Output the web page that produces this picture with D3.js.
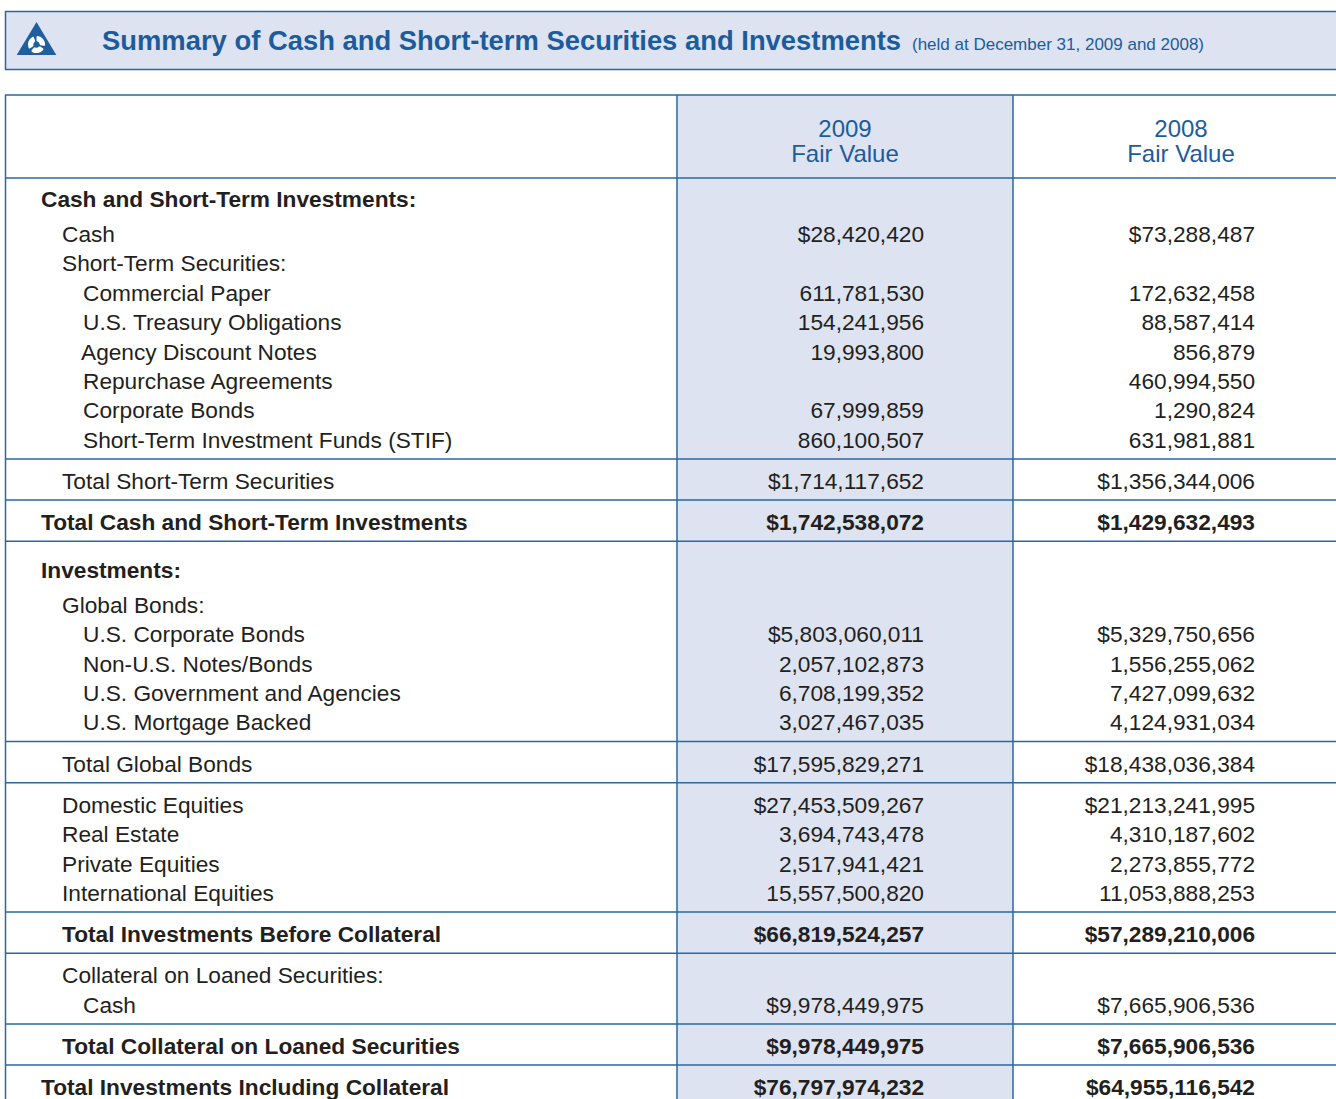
<!DOCTYPE html>
<html>
<head>
<meta charset="utf-8">
<script src="https://cdn.jsdelivr.net/npm/d3@7"></script>
<style>
  html, body { margin: 0; padding: 0; background: #fff; }
  svg { display: block; }
</style>
</head>
<body>
<svg id="chart" width="1336" height="1099"></svg>
<script>
// ---------- DATA ----------
const title = "Summary of Cash and Short-term Securities and Investments";
const subtitle = "(held at December 31, 2009 and 2008)";
const columnYears = ["2009", "2008"];
const columnSub = ["Fair Value", "Fair Value"];

const rowLabels = [
  "Cash and Short-Term Investments:",
  "Cash",
  "Short-Term Securities:",
  "Commercial Paper",
  "U.S. Treasury Obligations",
  "Agency Discount Notes",
  "Repurchase Agreements",
  "Corporate Bonds",
  "Short-Term Investment Funds (STIF)",
  "Total Short-Term Securities",
  "Total Cash and Short-Term Investments",
  "Investments:",
  "Global Bonds:",
  "U.S. Corporate Bonds",
  "Non-U.S. Notes/Bonds",
  "U.S. Government and Agencies",
  "U.S. Mortgage Backed",
  "Total Global Bonds",
  "Domestic Equities",
  "Real Estate",
  "Private Equities",
  "International Equities",
  "Total Investments Before Collateral",
  "Collateral on Loaned Securities:",
  "Cash",
  "Total Collateral on Loaned Securities",
  "Total Investments Including Collateral"
];
// hierarchy level of each row (0 = section, 1 = group, 2 = item)
const rowLevels = [0,1,1,2,2,2,2,2,2,1,0,0,1,2,2,2,2,1,1,1,1,1,1,1,2,1,0];
// row role: "section" heading, "item", "subtotal", "total"
const rowRoles = ["section","item","item","item","item","item","item","item","item","subtotal","total",
  "section","item","item","item","item","item","subtotal","item","item","item","item","total",
  "item","item","total","total"];
// rows followed by a rule
const ruleAfter = [8, 9, 10, 16, 17, 21, 22, 24, 25];

const values2009 = [null, 28420420, null, 611781530, 154241956, 19993800, null, 67999859, 860100507,
  1714117652, 1742538072, null, null, 5803060011, 2057102873, 6708199352, 3027467035, 17595829271,
  27453509267, 3694743478, 2517941421, 15557500820, 66819524257, null, 9978449975, 9978449975, 76797974232];
const values2008 = [null, 73288487, null, 172632458, 88587414, 856879, 460994550, 1290824, 631981881,
  1356344006, 1429632493, null, null, 5329750656, 1556255062, 7427099632, 4124931034, 18438036384,
  21213241995, 4310187602, 2273855772, 11053888253, 57289210006, null, 7665906536, 7665906536, 64955116542];
// rows whose figure carries a dollar sign
const dollarRows = [1, 9, 10, 13, 17, 18, 22, 24, 25, 26];

// ---------- LAYOUT ----------
const W = 1336, H = 1099;
const blue = "#2a67a3", titleBlue = "#1c5c9d", shade = "#dde3f0", ink = "#231f20";
const font = "'Liberation Sans', Arial, Helvetica, sans-serif";
const bodySize = 22.7;
const svg = d3.select("#chart");

// Title bar
svg.append("rect").attr("x", 5.5).attr("y", 11.5).attr("width", W + 10).attr("height", 58)
  .attr("fill", shade).attr("stroke", blue).attr("stroke-width", 1.5);

// logo
const logo = svg.append("g").attr("transform", "translate(36.5,22)");
logo.append("path").attr("d", "M0,0 L19.8,33 L-19.8,33 Z").attr("fill", "#1f5fa0");
const blade = d3.arc().innerRadius(3.2).outerRadius(8.6).cornerRadius(1.2);
[0, 120, 240].forEach(a => {
  const s = a * Math.PI / 180;
  logo.append("path")
    .attr("d", blade({ startAngle: s, endAngle: s + 1.75 }))
    .attr("fill", "#fff")
    .attr("transform", "translate(0,22.5)");
});

svg.append("text").attr("x", 102).attr("y", 50)
  .attr("font-family", font).attr("font-weight", "bold").attr("font-size", 27.4)
  .attr("fill", titleBlue).text(title);
svg.append("text").attr("x", 912).attr("y", 50)
  .attr("font-family", font).attr("font-size", 17)
  .attr("fill", titleBlue).text(subtitle);

// table geometry
const tableTop = 95, headBottom = 178, tableLeft = 5;
const colX = d3.scaleOrdinal().domain(columnYears).range([[677, 1013], [1013, 1349]]);
const valueRight = d3.scaleOrdinal().domain(columnYears).range([924, 1255]);
const indent = d3.scaleLinear().domain([0, 2]).range([41, 83]);

// compute row centres
const rowY = [];
let cursor = headBottom, prev = "head";
const ruleY = [];
rowLabels.forEach((lab, i) => {
  let gap;
  if (prev === "head") gap = 21;
  else if (prev === "rule") gap = rowRoles[i] === "section" ? 28.5 : 22.1;
  else if (prev === "section") gap = 35;
  else gap = 29.4;
  cursor += gap;
  rowY.push(cursor);
  prev = rowRoles[i] === "section" ? "section" : "row";
  if (ruleAfter.includes(i)) {
    cursor += 19.1;
    ruleY.push(cursor);
    prev = "rule";
  }
});

// shaded 2009 column
const c09 = colX("2009");
svg.append("rect").attr("x", c09[0]).attr("y", tableTop).attr("width", c09[1] - c09[0])
  .attr("height", H - tableTop + 10).attr("fill", shade);

// horizontal rules
svg.append("line").attr("x1", tableLeft).attr("x2", W + 10).attr("y1", tableTop).attr("y2", tableTop)
  .attr("stroke", blue).attr("stroke-width", 1.5);
svg.append("line").attr("x1", tableLeft).attr("x2", W + 10).attr("y1", headBottom).attr("y2", headBottom)
  .attr("stroke", blue).attr("stroke-width", 1.5);
svg.selectAll("line.rule").data(ruleY).join("line").attr("class", "rule")
  .attr("x1", tableLeft).attr("x2", W + 10).attr("y1", d => d).attr("y2", d => d)
  .attr("stroke", blue).attr("stroke-width", 1.5);

// vertical rules
[tableLeft + 0.5, c09[0], c09[1]].forEach(x => {
  svg.append("line").attr("x1", x).attr("x2", x).attr("y1", tableTop).attr("y2", H + 5)
    .attr("stroke", blue).attr("stroke-width", 1.5);
});

// header
columnYears.forEach((yr, k) => {
  const r = colX(yr), xc = (r[0] + r[1]) / 2;
  const cx = k === 1 ? 1181 : xc;
  svg.append("text").attr("x", cx).attr("y", 137).attr("text-anchor", "middle")
    .attr("font-family", font).attr("font-size", 24).attr("fill", titleBlue).text(yr);
  svg.append("text").attr("x", cx).attr("y", 162).attr("text-anchor", "middle")
    .attr("font-family", font).attr("font-size", 24).attr("fill", titleBlue).text(columnSub[k]);
});

// rows
const fmt = d3.format(",");
const isBold = i => rowRoles[i] === "section" || rowRoles[i] === "total";
const labelX = i => {
  if (rowRoles[i] === "total" && rowLevels[i] === 1) return 62;
  return indent(rowLevels[i]) - (rowLabels[i] === "Agency Discount Notes" ? 2 : 0);
};
const rows = svg.append("g");
rowLabels.forEach((lab, i) => {
  const y = rowY[i] + 8;
  const weight = isBold(i) ? "bold" : "normal";
  rows.append("text").attr("x", labelX(i)).attr("y", y)
    .attr("font-family", font).attr("font-size", bodySize).attr("font-weight", weight)
    .attr("fill", ink).text(lab);
  [[values2009, "2009"], [values2008, "2008"]].forEach(([arr, yr]) => {
    const v = arr[i];
    if (v == null) return;
    const s = (dollarRows.includes(i) ? "$" : "") + fmt(v);
    rows.append("text").attr("x", valueRight(yr)).attr("y", y).attr("text-anchor", "end")
      .attr("font-family", font).attr("font-size", bodySize).attr("font-weight", weight)
      .attr("fill", ink).text(s);
  });
});
</script>
</body>
</html>
